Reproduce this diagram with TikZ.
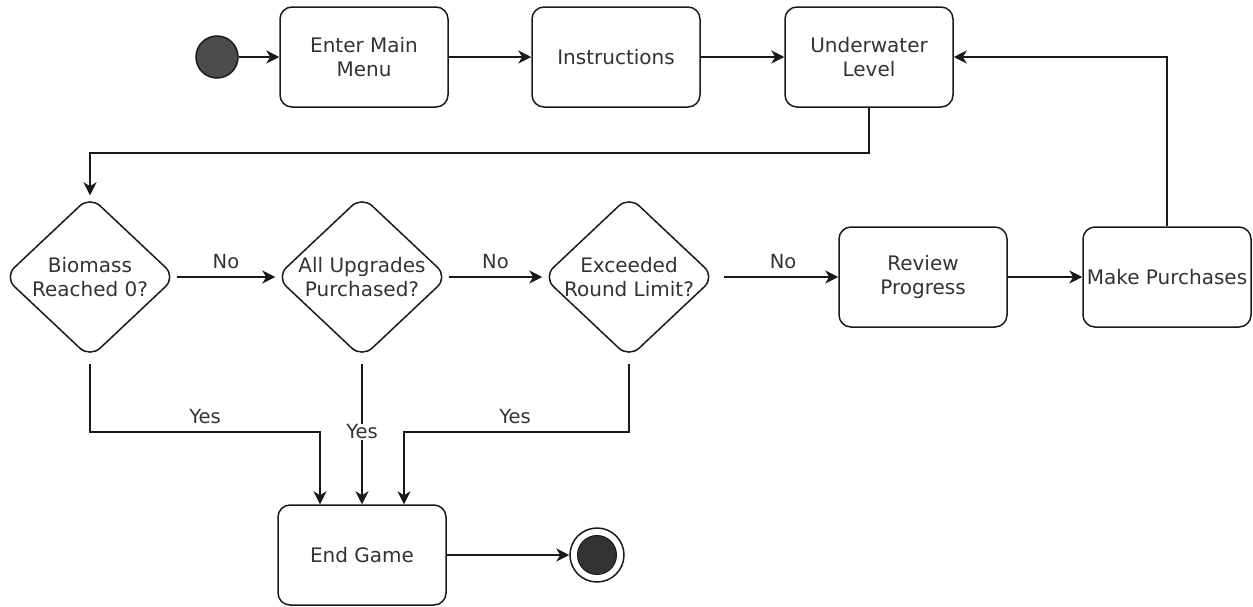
\documentclass[tikz,border=0pt]{standalone}
\usepackage{fontspec}
\setmainfont{DejaVu Sans}
\usetikzlibrary{shapes.geometric,arrows.meta}
\definecolor{txtc}{HTML}{333333}
\definecolor{linec}{HTML}{1A1A1A}
\tikzset{
  box/.style={draw=linec, line width=1.5pt, rounded corners=12pt, minimum width=168pt, minimum height=100pt, inner sep=0pt, fill=white},
  dia/.style={draw=linec, line width=1.5pt, diamond, rounded corners=14pt, minimum width=172pt, minimum height=162pt, inner sep=0pt},
  txt/.style={text=txtc, font=\fontsize{20}{24}\selectfont, align=center, inner sep=0pt},
  arr/.style={draw=linec, line width=1.5pt, -{Stealth[length=13pt,width=13pt,inset=4pt]}},
  lbl/.style={text=txtc, font=\fontsize{19.5}{23}\selectfont, inner sep=1pt},
}
\begin{document}
\begin{tikzpicture}[x=1pt,y=-1pt]
\useasboundingbox (0,0) rectangle (1253,606);
% start
\node[circle, draw=linec, line width=1.5pt, fill=black!70, minimum size=42pt, inner sep=0pt] (st) at (217,57) {};
% top row
\node[box] (em) at (364,57) {};
\node[txt] at (em) {Enter Main\\Menu};
\node[box] (ins) at (616,57) {};
\node[txt] at (ins) {Instructions};
\node[box] (uw) at (869,57) {};
\node[txt] at (uw) {Underwater\\Level};
% diamonds
\node[dia] (d1) at (90,277) {};
\node[txt] at (d1) {Biomass\\Reached 0?};
\node[dia] (d2) at (362,277) {};
\node[txt] at (d2) {All Upgrades\\Purchased?};
\node[dia] (d3) at (629,277) {};
\node[txt] at (d3) {Exceeded\\Round Limit?};
% right boxes
\node[box] (rp) at (923,277) {};
\node[txt] at (rp) {Review\\Progress};
\node[box] (mp) at (1167,277) {};
\node[txt] at (mp) {Make Purchases};
% end game
\node[box] (eg) at (362,555) {};
\node[txt] at (eg) {End Game};
% end state
\node[circle, draw=linec, line width=1.5pt, fill=white, minimum size=54pt, inner sep=0pt] (en) at (597,555) {};
\node[circle, draw=linec, line width=1pt, fill=black!80, minimum size=39pt, inner sep=0pt] (enin) at (en) {};
% connectors
\draw[arr] (st) -- (em);
\draw[arr] (em) -- (ins);
\draw[arr] (ins) -- (uw);
\draw[arr] (uw.south) -- (869,153) -| (d1.north);
\draw[arr] (d1.east) -- node[lbl, above=6pt, pos=0.5] {No} (d2.west);
\draw[arr] (d2.east) -- node[lbl, above=6pt, pos=0.5] {No} (d3.west);
\draw[arr, shorten <=8pt] (d3.east) -- node[lbl, above=6pt, pos=0.55] {No} (rp.west);
\draw[arr] (rp) -- (mp);
\draw[arr] (mp.north) |- (uw.east);
\coordinate (eg1) at ([xshift=-42pt]eg.north);
\coordinate (eg3) at ([xshift=42pt]eg.north);
\draw[arr, shorten <=5pt] (d1.south) |- (205,432) -| (eg1);
\node[lbl, anchor=south] at (205,425) {Yes};
\draw[arr, shorten <=5pt] (d2.south) -- (eg.north);
\node[lbl, fill=white] at (362,432) {Yes};
\draw[arr, shorten <=5pt] (d3.south) |- (515,432) -| (eg3);
\node[lbl, anchor=south] at (515,425) {Yes};
\draw[arr] (eg) -- (en);
\end{tikzpicture}
\end{document}
